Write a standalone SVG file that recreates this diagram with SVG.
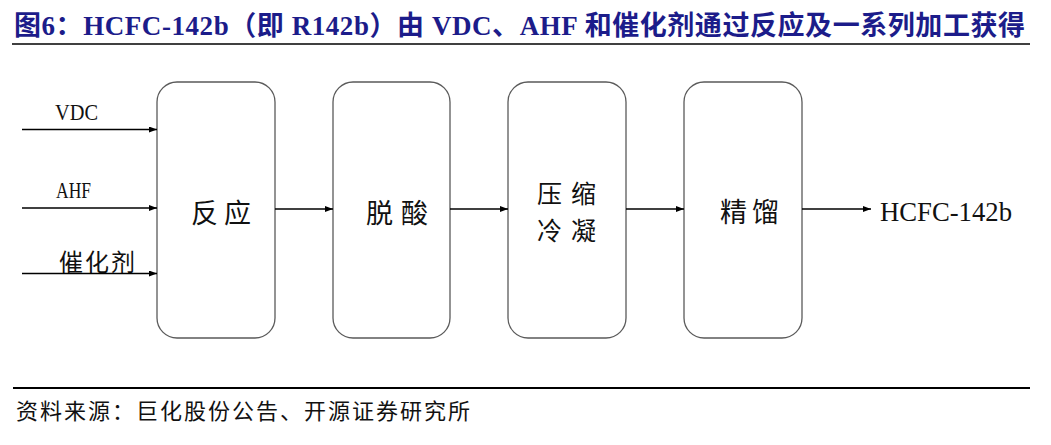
<svg xmlns="http://www.w3.org/2000/svg" width="1051" height="445" viewBox="0 0 1051 445">
<style>
.title{font-family:"Liberation Serif","Noto Sans CJK SC",serif;font-weight:bold;font-size:27px;fill:#1c1c8a}
.lbl{font-family:"Liberation Serif","Noto Sans CJK SC",serif;font-size:23px;fill:#111}
.box{fill:#fff;stroke:#5a5a5a;stroke-width:1.3}
.big{font-family:"Noto Sans CJK SC",sans-serif;font-size:27px;fill:#111}
.src{font-family:"Noto Sans CJK SC",sans-serif;font-size:22px;fill:#111}
.conn line{stroke:#000;stroke-width:1.5;marker-end:url(#ah)}
</style>
<defs>
<marker id="ah" viewBox="0 0 8 6" refX="8" refY="3" markerWidth="8" markerHeight="6" markerUnits="userSpaceOnUse" orient="auto">
<path d="M0,0 L8,3 L0,6 Z" fill="#000"/>
</marker>
</defs>
<rect width="1051" height="445" fill="#fff"/>
<text class="title" x="14" y="35" textLength="1011" lengthAdjust="spacing">图6：HCFC-142b（即 R142b）由 VDC、AHF 和催化剂通过反应及一系列加工获得</text>
<line x1="12" y1="44" x2="1030" y2="44" stroke="#000" stroke-width="1.5"/>

<g id="node-input-labels">
<text class="lbl" x="55" y="120" textLength="43" lengthAdjust="spacingAndGlyphs">VDC</text>
<text class="lbl" x="56" y="198" textLength="35" lengthAdjust="spacingAndGlyphs">AHF</text>
<text class="lbl" x="59" y="271" textLength="76" lengthAdjust="spacing" style="font-family:'Noto Sans CJK SC',sans-serif;font-size:24px">催化剂</text>
</g>
<g id="node-fanying">
<rect class="box" x="157" y="82" width="118" height="256" rx="20"/>
<text class="big" x="191" y="223" textLength="60" lengthAdjust="spacing">反应</text>
</g>
<g id="node-tuosuan">
<rect class="box" x="333" y="82" width="117" height="256" rx="20"/>
<text class="big" x="366" y="223" textLength="62" lengthAdjust="spacing">脱酸</text>
</g>
<g id="node-yasuo">
<rect class="box" x="508" y="82" width="118" height="256" rx="20"/>
<text class="big" x="537" y="203" textLength="59" lengthAdjust="spacing" style="font-size:25px">压缩</text>
<text class="big" x="537" y="240" textLength="59" lengthAdjust="spacing" style="font-size:25px">冷凝</text>
</g>
<g id="node-jingliu">
<rect class="box" x="684" y="82" width="118" height="256" rx="20"/>
<text class="big" x="720" y="222" textLength="59" lengthAdjust="spacing">精馏</text>
</g>
<g id="node-product">
<text class="lbl" x="880" y="221" textLength="132" lengthAdjust="spacingAndGlyphs" style="font-size:28px">HCFC-142b</text>
</g>
<g id="connectors" class="conn">
<line x1="22" y1="129.5" x2="157" y2="129.5"/>
<line x1="22" y1="208" x2="157" y2="208"/>
<line x1="22" y1="273.5" x2="157" y2="273.5"/>
<line x1="275" y1="209" x2="333" y2="209"/>
<line x1="450" y1="209" x2="508" y2="209"/>
<line x1="626" y1="209" x2="684" y2="209"/>
<line x1="802" y1="209" x2="871" y2="209"/>
</g>
<line x1="13" y1="388" x2="1030" y2="388" stroke="#000" stroke-width="2"/>
<text class="src" x="16" y="419" textLength="454" lengthAdjust="spacing">资料来源：巨化股份公告、开源证券研究所</text>
</svg>
